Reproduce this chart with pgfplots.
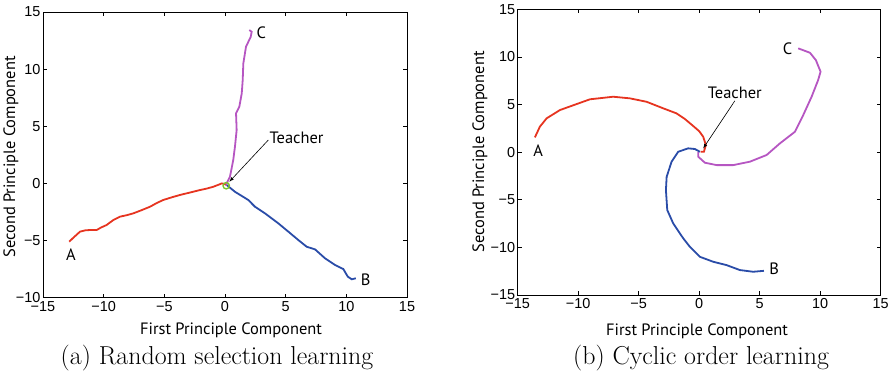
\documentclass[border=0pt]{standalone}
\usepackage{fontspec}
\usepackage{pgfplots}
\pgfplotsset{compat=1.18}
\newfontfamily\tickfont{Liberation Sans}
\newfontfamily\labfont{PT Sans}
\newcommand\lab{\labfont\fontsize{16.5}{18}\selectfont}
\definecolor{cred}{RGB}{230,52,32}
\definecolor{cblue}{RGB}{42,76,168}
\definecolor{cmag}{RGB}{182,86,194}
\definecolor{cgreen}{RGB}{125,196,42}
\pgfplotsset{
  mystyle/.style={
    scale only axis, clip=false,
    xmin=-15, xmax=15,
    xtick={-15,-10,-5,0,5,10,15},
    xticklabels={−15,−10,−5,0,5,10,15},
    tick align=inside, major tick length=4bp,
    axis line style={line width=1bp},
    every tick/.style={black, line width=0.8bp},
    ticklabel style={font=\tickfont\fontsize{14.5}{16}\selectfont},
    yticklabel style={xshift=1bp},
    /pgf/number format/assume math mode=true,
    every axis plot/.append style={line width=1.8bp},
  }
}
\begin{document}
\begin{tikzpicture}
\useasboundingbox (0,0) rectangle (896bp,-381bp);
% ---------- left
\begin{axis}[mystyle, at={(43bp,-297.7bp)}, anchor=south west,
  width=364bp, height=285.7bp,
  ymin=-10, ymax=15,
  ytick={-10,-5,0,5,10,15},
  yticklabels={−10,−5,0,5,10,15}]
\addplot[cred] coordinates {(-12.84,-5.1) (-12.5,-4.75) (-11.95,-4.22) (-11.5,-4.1) (-11.13,-4.08) (-10.58,-4.08) (-10.2,-3.85) (-9.76,-3.64) (-9.2,-3.2) (-8.66,-2.91) (-8.1,-2.78) (-7.56,-2.62) (-6.9,-2.35) (-6.18,-2.04) (-5.6,-1.7) (-5.09,-1.45) (-4.4,-1.22) (-3.71,-1.01) (-2.9,-0.8) (-2.06,-0.58) (-1.5,-0.45) (-0.96,-0.29) (-0.5,-0.1) (-0.27,0) (0,-0.05) (0.08,-0.15)};
\addplot[cmag] coordinates {(0.08,-0.1) (0.41,0.59) (0.68,2.05) (0.82,3.21) (0.96,4.67) (0.91,6.13) (1.18,6.71) (1.38,7.88) (1.46,9.05) (1.51,10.5) (1.73,11.96) (2.12,12.83) (2.2,13.27) (2.0,13.42)};
\addplot[cblue] coordinates {(0.14,-0.14) (0.82,-0.73) (1.92,-1.45) (2.47,-2.04) (3.3,-2.62) (4.39,-3.49) (5.22,-4.22) (6.04,-4.95) (6.73,-5.54) (7.42,-5.77) (8.24,-6.55) (9.07,-7.14) (9.75,-7.49) (10.12,-8.16) (10.45,-8.39) (10.78,-8.3)};
\addplot[only marks, mark=o, mark size=3.2bp, cgreen, mark options={line width=1.4bp}] coordinates {(0.1,-0.2)};
\draw[-latex, line width=0.6bp] (axis cs:3.57,3.8) -- (axis cs:0.36,0.15);
\node[font=\lab] at (axis cs:5.9,3.95) {Teacher};
\node[font=\lab] at (axis cs:-12.7,-6.26) {A};
\node[font=\lab] at (axis cs:11.6,-8.4) {B};
\node[font=\lab] at (axis cs:3.0,13.2) {C};
\end{axis}
% ---------- right
\begin{axis}[mystyle, at={(517.7bp,-295bp)}, anchor=south west,
  width=363bp, height=285.7bp,
  ymin=-15, ymax=15,
  ytick={-15,-10,-5,0,5,10,15},
  yticklabels={−15,−10,−5,0,5,10,15}]
\addplot[cred] coordinates {(-13.58,1.55) (-13.17,2.67) (-12.61,3.55) (-11.51,4.42) (-10.13,5.05) (-9.03,5.55) (-7.11,5.82) (-5.73,5.65) (-4.35,5.29) (-2.97,4.6) (-1.87,4.07) (-1.2,3.5) (-0.5,2.75) (0.0,2.2) (0.33,1.62) (0.55,0.75) (0.39,0.04) (0.12,0.04)};
\addplot[cmag] coordinates {(-0.08,0.04) (-0.08,-0.48) (0.47,-1.11) (1.44,-1.36) (2.81,-1.36) (4.19,-1.0) (5.57,-0.3) (6.67,0.92) (7.91,2.14) (8.6,3.9) (9.29,5.82) (9.83,7.57) (10.03,8.45) (9.64,9.67) (9.15,10.44) (8.18,10.9)};
\addplot[cblue] coordinates {(0.06,0.04) (-0.36,0.33) (-0.91,0.4) (-1.74,0.04) (-2.28,-1.0) (-2.69,-2.58) (-2.75,-3.98) (-2.64,-6.08) (-2.15,-7.48) (-1.32,-9.05) (-0.77,-9.94) (0.06,-10.99) (1.16,-11.51) (2.26,-11.86) (3.36,-12.38) (4.46,-12.56) (5.35,-12.46)};
\draw[-latex, line width=0.6bp] (axis cs:2.95,5.4) -- (axis cs:0.33,0.4);
\node[font=\lab] at (axis cs:2.95,6.2) {Teacher};
\node[font=\lab] at (axis cs:-13.3,0.2) {A};
\node[font=\lab] at (axis cs:6.2,-12.2) {B};
\node[font=\lab] at (axis cs:7.3,10.9) {C};
\end{axis}
% axis labels and captions
\node[font=\lab] at (231bp,-330bp) {First Principle Component};
\node[font=\lab, rotate=90] at (11bp,-157bp) {Second Principle Component};
\node[font=\lab] at (697bp,-331.5bp) {First Principle Component};
\node[font=\lab, rotate=90] at (480bp,-152bp) {Second Principle Component};
\node[font=\fontsize{26}{30}\selectfont] at (217bp,-358bp) {(a) Random selection learning};
\node[font=\fontsize{26}{30}\selectfont] at (701bp,-358bp) {(b) Cyclic order learning};
\end{tikzpicture}
\end{document}
